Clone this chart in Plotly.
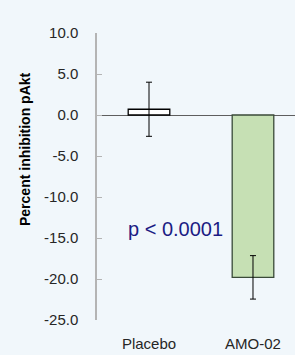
import plotly.graph_objects as go

categories = ["Placebo", "AMO-02"]
values = [0.7, -19.8]
errors = [3.3, 2.65]
bar_fills = ["#ffffff", "#c6e0b4"]
bar_lines = ["#000000", "#3a4a38"]
y_ticks = [10, 5, 0, -5, -10, -15, -20, -25]
y_tick_labels = ["10.0", "5.0", "0.0", "-5.0", "-10.0", "-15.0", "-20.0", "-25.0"]

FONT = "Liberation Sans, Arial, sans-serif"
BG = "#f1f7fb"

fig = go.Figure()
fig.add_trace(go.Bar(
    x=categories, y=values, width=0.4,
    marker=dict(color=bar_fills, line=dict(color=bar_lines, width=1.3)),
    error_y=dict(type="data", array=errors, visible=True, color="#000000",
                 thickness=1, width=3),
    showlegend=False, hoverinfo="skip",
))

fig.update_layout(
    width=295, height=355,
    margin=dict(l=97, r=0, t=33, b=35, autoexpand=False),
    paper_bgcolor=BG, plot_bgcolor=BG,
    font=dict(family=FONT, size=15, color="#262626"),
    xaxis=dict(range=[-0.5, 1.404], showgrid=False, showline=False, ticks="",
               tickfont=dict(size=15, color="#262626"), ticklabelstandoff=13,
               zeroline=False, automargin=False),
    yaxis=dict(range=[-25, 10], tickvals=y_ticks, ticktext=y_tick_labels,
               showgrid=False, showline=True, linecolor="#b4b4b4", linewidth=1.5,
               ticks="inside", ticklen=5, tickcolor="#b4b4b4", tickwidth=1.3,
               tickfont=dict(size=15, color="#262626"), ticklabelstandoff=14,
               zeroline=True, zerolinecolor="#5e5e5e", zerolinewidth=1.3,
               automargin=False),
    bargap=0.6,
)

fig.add_annotation(
    text="<b>Percent inhibition pAkt</b>", textangle=-90,
    xref="paper", yref="paper", x=(25 - 97) / 198, y=(320 - 149) / 287,
    xanchor="center", yanchor="middle", showarrow=False,
    font=dict(family=FONT, size=14, color="#000000"),
)
fig.add_annotation(
    text="p < 0.0001", xref="x", yref="y", x=0.257, y=-13.9,
    xanchor="center", yanchor="middle", showarrow=False,
    font=dict(family=FONT, size=20, color="#1c1c84"),
)

fig.write_html(
    "out.html",
    config={"displayModeBar": False},
    post_script="document.body.style.margin='0';document.body.style.padding='0';",
)
